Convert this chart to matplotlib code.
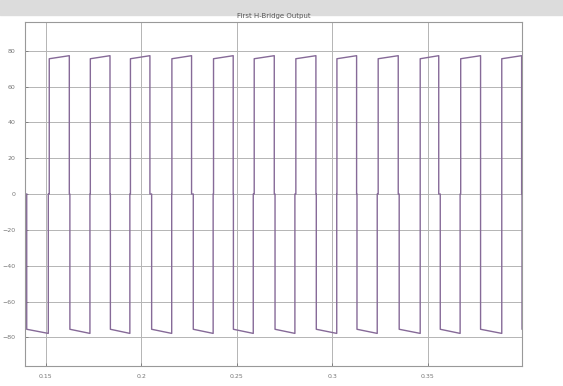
import numpy as np
import matplotlib.pyplot as plt
from matplotlib.patches import Rectangle

# switching instants of the H-bridge (s)
pos_on = [0.1519, 0.1734, 0.1944, 0.2161, 0.2379, 0.2592, 0.2810, 0.3025, 0.3241, 0.3461, 0.3673, 0.3888]
pos_off = [0.1624, 0.1837, 0.2046, 0.2264, 0.2482, 0.2697, 0.2915, 0.3128, 0.3346, 0.3558, 0.3777, 0.3992]
neg_on = [0.1401, 0.1627, 0.1839, 0.2055, 0.2273, 0.2483, 0.2701, 0.2917, 0.3130, 0.3351, 0.3566, 0.3777, 0.3994]
neg_off = [0.1514, 0.1732, 0.1941, 0.2160, 0.2377, 0.2587, 0.2805, 0.3024, 0.3236, 0.3461, 0.3670, 0.3888, 0.4100]

# output voltage at start / end of each pulse (V)
pos_v0, pos_v1 = 75.5, 77.2
neg_v0, neg_v1 = -75.5, -77.8

yticks = [-80, -60, -40, -20, 0, 20, 40, 60, 80]
xticks = [0.15, 0.2, 0.25, 0.3, 0.35]
xtick_labels = ['0.15', '0.2', '0.25', '0.3', '0.35']

pulses = [(a, b, pos_v0, pos_v1) for a, b in zip(pos_on, pos_off)]
pulses += [(a, b, neg_v0, neg_v1) for a, b in zip(neg_on, neg_off)]
pulses.sort()

t = []
v = []
for a, b, v0, v1 in pulses:
    t += [a, a, b, b]
    v += [0, v0, v1, 0]
t = np.array(t)
v = np.array(v)

fig = plt.figure(figsize=(5.63, 3.86), dpi=100)
fig.patches.append(Rectangle((0, 0.96), 1, 0.04, transform=fig.transFigure,
                             color='#dcdcdc', zorder=-1))
ax = fig.add_axes([0.0444, 0.0518, 0.8828, 0.8912])

ax.plot(t, v, color='#866a98', lw=1.0)

ax.set_xlim(0.1392, 0.3994)
ax.set_ylim(-96, 96)
ax.set_xticks(xticks)
ax.set_xticklabels(xtick_labels)
ax.set_yticks(yticks)
ax.grid(True, color='#b4b4b4', lw=0.7)
ax.tick_params(labelsize=4.5, colors='#777777', length=2, width=0.6, direction='in')
ax.tick_params(axis='x', pad=6)
ax.tick_params(axis='y', pad=7)
for s in ax.spines.values():
    s.set_color('#999999')
    s.set_linewidth(0.8)

ax.set_title('First H-Bridge Output', fontsize=5, color='#555555', pad=3)

plt.savefig('out.png', dpi=100)
